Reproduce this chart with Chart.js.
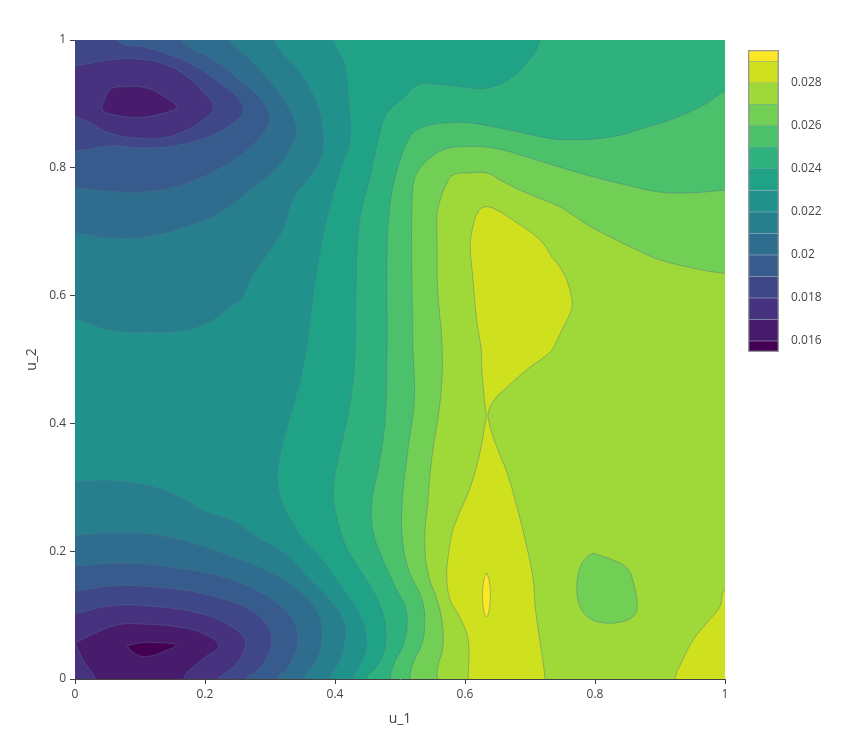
<!DOCTYPE html>
<html>
<head>
<meta charset="utf-8">
<script src="https://cdn.jsdelivr.net/npm/chart.js@4.4.1/dist/chart.umd.min.js"></script>
<style>
  body { margin: 0; background: #fff; }
  #wrap { position: relative; width: 853px; height: 740px; }
  #main { position: absolute; left: 0; top: 0; }
  #bar { position: absolute; left: 740px; top: 0; }
</style>
</head>
<body>
<div id="wrap">
  <canvas id="main" width="853" height="740"></canvas>
  <canvas id="bar" width="113" height="400"></canvas>
</div>
<script>
// contour levels (0.016 .. 0.029, step 0.001) and the colorbar range
var cbEdges = [0.01549, 0.016, 0.017, 0.018, 0.019, 0.020, 0.021, 0.022, 0.023, 0.024, 0.025, 0.026, 0.027, 0.028, 0.029, 0.02953];
var cbTicks = [0.016, 0.018, 0.020, 0.022, 0.024, 0.026, 0.028];
var axisTicks = [0, 0.2, 0.4, 0.6, 0.8, 1];

// contour lines, [u_1, u_2]
// top-left minimum (lines run from the top edge to the left edge)
var c017top = [[0.041,0.895],[0.054,0.922],[0.074,0.927],[0.110,0.925],[0.136,0.912],[0.156,0.895],[0.131,0.884],[0.100,0.879],[0.064,0.882],[0.045,0.888],[0.041,0.895]];
var c018top = [[0,0.960],[0.054,0.969],[0.100,0.970],[0.141,0.961],[0.172,0.943],[0.197,0.919],[0.213,0.895],[0.197,0.875],[0.172,0.859],[0.141,0.848],[0.100,0.846],[0.054,0.854],[0,0.880]];
var c019top = [[0.064,1],[0.115,0.987],[0.172,0.966],[0.218,0.937],[0.249,0.911],[0.259,0.892],[0.249,0.875],[0.218,0.854],[0.172,0.838],[0.115,0.831],[0.054,0.834],[0,0.826]];
var c020top = [[0.164,1],[0.213,0.969],[0.254,0.937],[0.287,0.906],[0.300,0.880],[0.290,0.854],[0.259,0.823],[0.223,0.799],[0.172,0.776],[0.115,0.763],[0.054,0.763],[0,0.769]];
var c021top = [[0.238,1],[0.269,0.970],[0.300,0.935],[0.325,0.900],[0.340,0.868],[0.338,0.845],[0.322,0.815],[0.300,0.790],[0.275,0.770],[0.245,0.745],[0.213,0.724],[0.172,0.708],[0.115,0.693],[0.054,0.690],[0,0.698]];
var c022top = [[0.305,1],[0.342,0.954],[0.372,0.901],[0.382,0.848],[0.377,0.812],[0.357,0.781],[0.335,0.750],[0.320,0.703],[0.300,0.671],[0.269,0.624],[0.258,0.598],[0.238,0.582],[0.212,0.562],[0.172,0.546],[0.115,0.543],[0.054,0.546],[0,0.563]];

// bottom-left minimum (lines run from the left edge to the bottom edge)
var c016bot = [[0.080,0.052],[0.103,0.057],[0.123,0.057],[0.144,0.056],[0.156,0.053],[0.139,0.044],[0.110,0.035],[0.092,0.040],[0.080,0.052]];
var c017bot = [[0,0.056],[0.031,0.072],[0.067,0.085],[0.103,0.086],[0.154,0.082],[0.195,0.072],[0.221,0.052],[0.195,0.030],[0.167,0]];
var c017gap = [[0.031,0],[0.015,0.025],[0,0.056]];
var c018bot = [[0,0.103],[0.056,0.115],[0.128,0.113],[0.195,0.102],[0.236,0.085],[0.259,0.066],[0.262,0.051],[0.251,0.027],[0.231,0.009],[0.221,0]];
var c019bot = [[0,0.138],[0.062,0.146],[0.144,0.142],[0.215,0.129],[0.270,0.108],[0.295,0.085],[0.303,0.060],[0.296,0.035],[0.280,0.012],[0.264,0]];
var c020bot = [[0,0.177],[0.067,0.181],[0.133,0.177],[0.215,0.163],[0.277,0.140],[0.318,0.113],[0.337,0.090],[0.343,0.066],[0.338,0.040],[0.325,0.015],[0.310,0]];
var c021bot = [[0,0.225],[0.067,0.229],[0.133,0.224],[0.195,0.208],[0.256,0.186],[0.308,0.163],[0.349,0.134],[0.374,0.103],[0.380,0.068],[0.372,0.030],[0.352,0]];
var c022bot = [[0,0.309],[0.060,0.310],[0.115,0.302],[0.165,0.283],[0.200,0.262],[0.245,0.246],[0.283,0.220],[0.320,0.198],[0.360,0.157],[0.395,0.120],[0.415,0.085],[0.413,0.050],[0.405,0.025],[0.392,0]];

// rising side (higher values on the right)
var c023 = [[0.397,1],[0.415,0.961],[0.420,0.911],[0.423,0.844],[0.408,0.797],[0.388,0.723],[0.372,0.640],[0.362,0.567],[0.351,0.488],[0.338,0.437],[0.326,0.394],[0.314,0.343],[0.311,0.315],[0.315,0.288],[0.325,0.261],[0.349,0.222],[0.380,0.186],[0.408,0.147],[0.434,0.108],[0.446,0.077],[0.448,0.049],[0.438,0.022],[0.428,0]];
var c024 = [[0.715,1],[0.695,0.964],[0.665,0.937],[0.634,0.925],[0.608,0.925],[0.566,0.930],[0.528,0.930],[0.505,0.909],[0.480,0.886],[0.469,0.854],[0.454,0.786],[0.438,0.718],[0.432,0.598],[0.431,0.515],[0.426,0.452],[0.415,0.390],[0.400,0.319],[0.398,0.280],[0.405,0.244],[0.417,0.207],[0.438,0.171],[0.458,0.139],[0.472,0.108],[0.478,0.074],[0.475,0.042],[0.462,0.017],[0.448,0]];
var c025 = [[1,0.919],[0.972,0.901],[0.926,0.879],[0.874,0.862],[0.823,0.848],[0.757,0.844],[0.720,0.848],[0.669,0.859],[0.608,0.870],[0.566,0.870],[0.531,0.862],[0.515,0.848],[0.500,0.812],[0.489,0.770],[0.482,0.718],[0.480,0.656],[0.480,0.515],[0.477,0.405],[0.466,0.327],[0.457,0.280],[0.458,0.233],[0.474,0.186],[0.495,0.139],[0.508,0.113],[0.511,0.085],[0.505,0.053],[0.492,0.027],[0.485,0]];
var c026 = [[1,0.765],[0.951,0.761],[0.900,0.762],[0.849,0.773],[0.797,0.786],[0.746,0.801],[0.695,0.817],[0.643,0.831],[0.592,0.833],[0.566,0.828],[0.542,0.812],[0.526,0.792],[0.520,0.770],[0.518,0.718],[0.518,0.656],[0.520,0.515],[0.522,0.437],[0.512,0.358],[0.503,0.269],[0.505,0.207],[0.515,0.166],[0.534,0.124],[0.538,0.088],[0.534,0.056],[0.520,0.025],[0.515,0]];
var c027 = [[1,0.635],[0.951,0.643],[0.900,0.656],[0.865,0.671],[0.823,0.692],[0.788,0.711],[0.766,0.726],[0.746,0.739],[0.720,0.750],[0.685,0.765],[0.654,0.781],[0.634,0.792],[0.608,0.792],[0.582,0.789],[0.572,0.776],[0.562,0.750],[0.557,0.726],[0.557,0.687],[0.558,0.609],[0.565,0.515],[0.562,0.437],[0.549,0.347],[0.542,0.269],[0.538,0.218],[0.543,0.166],[0.557,0.124],[0.565,0.088],[0.566,0.050],[0.558,0.019],[0.557,0]];
var c027dip = [[0.797,0.197],[0.828,0.186],[0.849,0.174],[0.858,0.155],[0.865,0.113],[0.858,0.097],[0.838,0.089],[0.812,0.088],[0.792,0.095],[0.777,0.113],[0.772,0.144],[0.777,0.175],[0.788,0.191],[0.797,0.197]];
// hourglass through the saddle near (0.633, 0.41)
var c028mid = [[0.633,0.412],[0.630,0.437],[0.626,0.484],[0.625,0.515],[0.618,0.562],[0.611,0.640],[0.608,0.676],[0.612,0.707],[0.620,0.731],[0.631,0.739],[0.649,0.734],[0.674,0.718],[0.700,0.700],[0.720,0.682],[0.734,0.660],[0.746,0.645],[0.758,0.620],[0.765,0.588],[0.762,0.573],[0.749,0.546],[0.734,0.515],[0.726,0.507],[0.695,0.484],[0.665,0.457],[0.645,0.437],[0.636,0.418],[0.637,0.401],[0.649,0.363],[0.665,0.322],[0.680,0.269],[0.695,0.207],[0.705,0.155],[0.708,0.113],[0.715,0.061],[0.723,0],[0.723,-0.05],[0.605,-0.05],[0.605,0],[0.605,0.061],[0.592,0.097],[0.577,0.124],[0.572,0.160],[0.574,0.191],[0.580,0.228],[0.587,0.249],[0.608,0.300],[0.623,0.354],[0.630,0.395],[0.633,0.412]];
var c028corner = [[1,0.139],[0.992,0.113],[0.972,0.088],[0.951,0.061],[0.935,0.030],[0.923,0]];
var c029 = [[0.633,0.166],[0.637,0.155],[0.639,0.131],[0.637,0.107],[0.633,0.097],[0.629,0.107],[0.627,0.131],[0.629,0.155],[0.633,0.166]];

// plotly Viridis
var viridisStops = [[0,'#440154'],[0.0627,'#48186a'],[0.1255,'#472d7b'],[0.1882,'#424086'],[0.2510,'#3b528b'],[0.3137,'#33638d'],[0.3765,'#2c728e'],[0.4392,'#26828e'],[0.5020,'#21918c'],[0.5647,'#1fa088'],[0.6275,'#28ae80'],[0.6902,'#3fbc73'],[0.7529,'#5ec962'],[0.8157,'#84d44b'],[0.8784,'#addc30'],[0.9412,'#d8e219'],[1,'#fde725']];

function hexRgb(h) {
  return [parseInt(h.substr(1,2),16), parseInt(h.substr(3,2),16), parseInt(h.substr(5,2),16)];
}
function viridisAt(t) {
  for (var i = 1; i < viridisStops.length; i++) {
    if (t <= viridisStops[i][0]) {
      var a = viridisStops[i-1], b = viridisStops[i];
      var f = (t - a[0]) / (b[0] - a[0]);
      var ca = hexRgb(a[1]), cb = hexRgb(b[1]);
      return 'rgb(' + ca.map(function(v, k) { return Math.round(v + (cb[k] - v) * f); }).join(',') + ')';
    }
  }
  return viridisStops[viridisStops.length-1][1];
}
var nBands = cbEdges.length - 1;
var bandColors = [];
for (var i = 0; i < nBands; i++) bandColors.push(viridisAt(i / (nBands - 1)));

var lineColor = 'rgba(75,115,140,0.55)';
var corner = { TL: [-0.1, 1.1], TR: [1.1, 1.1], BR: [1.1, -0.1], BL: [-0.1, -0.1] };

// push an end point that sits on the plot edge a little outside it
function out(p) {
  if (p[0] <= 0) return [-0.05, p[1]];
  if (p[0] >= 1) return [1.05, p[1]];
  if (p[1] <= 0) return [p[0], -0.05];
  if (p[1] >= 1) return [p[0], 1.05];
  return p;
}
// closes a contour line against the plot corners
function region(line, corners) {
  var pts = [out(line[0])].concat(line, [out(line[line.length - 1])]);
  corners.forEach(function(c) { pts.push(corner[c]); });
  pts.push(out(line[0]));
  return pts;
}

var layers = [];
function layer(points, band, flat) {
  layers.push({
    data: points.map(function(p) { return {x: p[0], y: p[1]}; }),
    backgroundColor: bandColors[band],
    borderColor: flat ? 'rgba(0,0,0,0)' : lineColor,
    borderWidth: flat ? 0 : 0.8,
    fill: 'shape',
    pointRadius: 0,
    tension: flat ? 0 : 0.4,
    clip: 0
  });
}

// band 7 everywhere, then the rising side, then the two minima
layer([corner.BL, corner.BR, corner.TR, corner.TL, corner.BL], 7, true);
layer(region(c023, ['BR', 'TR']), 8);
layer(region(c024, ['BR', 'TR']), 9);
layer(region(c025, ['BR']), 10);
layer(region(c026, ['BR']), 11);
layer(region(c027, ['BR']), 12);
layer(c027dip, 11);
layer(c028mid, 13);
layer(region(c028corner, ['BR']), 13);
layer(c029, 14);
layer(region(c022top, ['TL']), 6);
layer(region(c022bot, ['BL']), 6);
layer(region(c021top, ['TL']), 5);
layer(region(c021bot, ['BL']), 5);
layer(region(c020top, ['TL']), 4);
layer(region(c020bot, ['BL']), 4);
layer(region(c019top, ['TL']), 3);
layer(region(c019bot, ['BL']), 3);
layer(region(c018top, []), 2);
layer(region(c018bot, ['BL']), 2);
layer(c017top, 1);
layer(c017bot.concat([out(c017bot[c017bot.length - 1]), out(c017gap[0])], c017gap), 1);
layer(c016bot, 0);
// first layer drawn first
layers.forEach(function(d, k) { d.order = layers.length - k; });

Chart.defaults.font.family = '"Open Sans", "DejaVu Sans", sans-serif';
Chart.defaults.font.size = 12;
Chart.defaults.color = '#444';

function fixTicks(list) {
  return function(scale) { scale.ticks = list.map(function(v) { return {value: v}; }); };
}
function fmt(v) { return String(+Number(v).toFixed(3)); }

new Chart(document.getElementById('main').getContext('2d'), {
  type: 'line',
  data: { datasets: layers },
  options: {
    responsive: false,
    animation: false,
    events: [],
    layout: { padding: { left: 0, right: 128, top: 40, bottom: 0 } },
    elements: { line: { capBezierPoints: false } },
    plugins: { legend: { display: false }, tooltip: { enabled: false } },
    scales: {
      x: {
        type: 'linear', min: 0, max: 1,
        afterBuildTicks: fixTicks(axisTicks),
        afterFit: function(s) { s.height = 61; },
        ticks: { padding: 3, callback: fmt, maxRotation: 0 },
        grid: { drawOnChartArea: false, drawTicks: true, tickLength: 5, color: '#444' },
        border: { display: true, color: '#444', width: 1 },
        title: { display: true, text: 'u_1', font: { size: 14 }, color: '#444', padding: { top: 0, bottom: 13 } }
      },
      y: {
        type: 'linear', min: 0, max: 1,
        afterBuildTicks: fixTicks(axisTicks),
        afterFit: function(s) { s.width = 75; },
        ticks: { padding: 4, callback: fmt },
        grid: { drawOnChartArea: false, drawTicks: true, tickLength: 5, color: '#444' },
        border: { display: false },
        title: { display: true, text: 'u_2', font: { size: 14 }, color: '#444', padding: { top: 24, bottom: 0 } }
      }
    }
  }
});

// colorbar: one floating bar per contour band
var cbSets = [{
  data: [[cbEdges[0], cbEdges[nBands]]],
  backgroundColor: 'rgba(0,0,0,0)',
  borderColor: '#999', borderWidth: 1, borderSkipped: false,
  barPercentage: 1, categoryPercentage: 1, grouped: false, order: 0
}];
for (var b = 0; b < nBands; b++) {
  cbSets.push({
    data: [[cbEdges[b], cbEdges[b + 1]]],
    backgroundColor: bandColors[b],
    borderColor: lineColor, borderWidth: 0.5, borderSkipped: false,
    barPercentage: 1, categoryPercentage: 1, grouped: false, order: 1
  });
}

new Chart(document.getElementById('bar').getContext('2d'), {
  type: 'bar',
  data: { labels: [''], datasets: cbSets },
  options: {
    responsive: false,
    animation: false,
    events: [],
    layout: { padding: { left: 8, right: 0, top: 50, bottom: 48 } },
    plugins: { legend: { display: false }, tooltip: { enabled: false } },
    scales: {
      x: { display: false },
      y: {
        position: 'right',
        min: cbEdges[0], max: cbEdges[nBands],
        afterBuildTicks: fixTicks(cbTicks),
        afterFit: function(s) { s.width = 74; },
        ticks: { padding: 4, callback: fmt },
        grid: { display: false },
        border: { display: false }
      }
    }
  }
});
</script>
</body>
</html>
